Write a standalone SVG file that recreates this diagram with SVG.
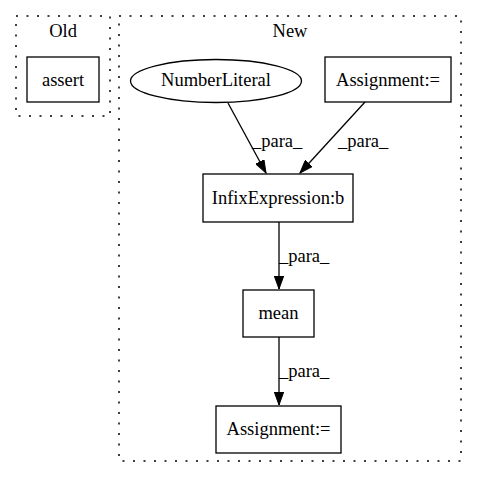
<svg xmlns="http://www.w3.org/2000/svg" width="477" height="480" viewBox="0 0 477 480">
<defs>
<style>
text { font-family: "Liberation Serif", "Times New Roman", serif; font-size: 18.5px; fill: #000; }
.c { text-anchor: middle; }
.cluster { fill: none; stroke: #000; stroke-width: 1.5; stroke-dasharray: 2,8.5; }
.node { fill: #fff; stroke: #000; stroke-width: 1.3; }
.edge { fill: none; stroke: #000; stroke-width: 1.3; }
</style>
<marker id="arr" markerWidth="14" markerHeight="10" refX="13" refY="5" orient="auto" markerUnits="userSpaceOnUse">
<path d="M0,0.3 L13,5 L0,9.7 Z" fill="#000" stroke="#000" stroke-width="1"/>
</marker>
</defs>
<rect width="477" height="480" fill="#fff"/>
<g id="cluster_old">
<rect class="cluster" x="16" y="16" width="94" height="100"/>
<text class="c" x="63" y="37">Old</text>
</g>
<g id="cluster_new">
<rect class="cluster" x="119" y="16" width="342" height="445"/>
<text class="c" x="290" y="37">New</text>
</g>
<g id="edges">
<path class="edge" d="M228,103 L266,173" marker-end="url(#arr)"/>
<text x="252" y="147">_para_</text>
<path class="edge" d="M365,102 L300,173" marker-end="url(#arr)"/>
<text x="338" y="147">_para_</text>
<path class="edge" d="M279,222 L279,289" marker-end="url(#arr)"/>
<text x="279" y="262">_para_</text>
<path class="edge" d="M279,337 L279,405" marker-end="url(#arr)"/>
<text x="279" y="377">_para_</text>
</g>
<g id="n_assert">
<rect class="node" x="27" y="57" width="72" height="45"/>
<text class="c" x="63" y="86">assert</text>
</g>
<g id="n_numberliteral">
<ellipse class="node" cx="216" cy="81" rx="85.5" ry="21.5"/>
<text class="c" x="216" y="86">NumberLiteral</text>
</g>
<g id="n_assign1">
<rect class="node" x="325" y="57" width="126" height="45"/>
<text class="c" x="388" y="86">Assignment:=</text>
</g>
<g id="n_infix">
<rect class="node" x="203" y="174" width="150" height="48"/>
<text class="c" x="278" y="204">InfixExpression:b</text>
</g>
<g id="n_mean">
<rect class="node" x="243" y="290" width="71" height="47"/>
<text class="c" x="278.5" y="319">mean</text>
</g>
<g id="n_assign2">
<rect class="node" x="216" y="406" width="125" height="47"/>
<text class="c" x="278.5" y="435">Assignment:=</text>
</g>
</svg>
